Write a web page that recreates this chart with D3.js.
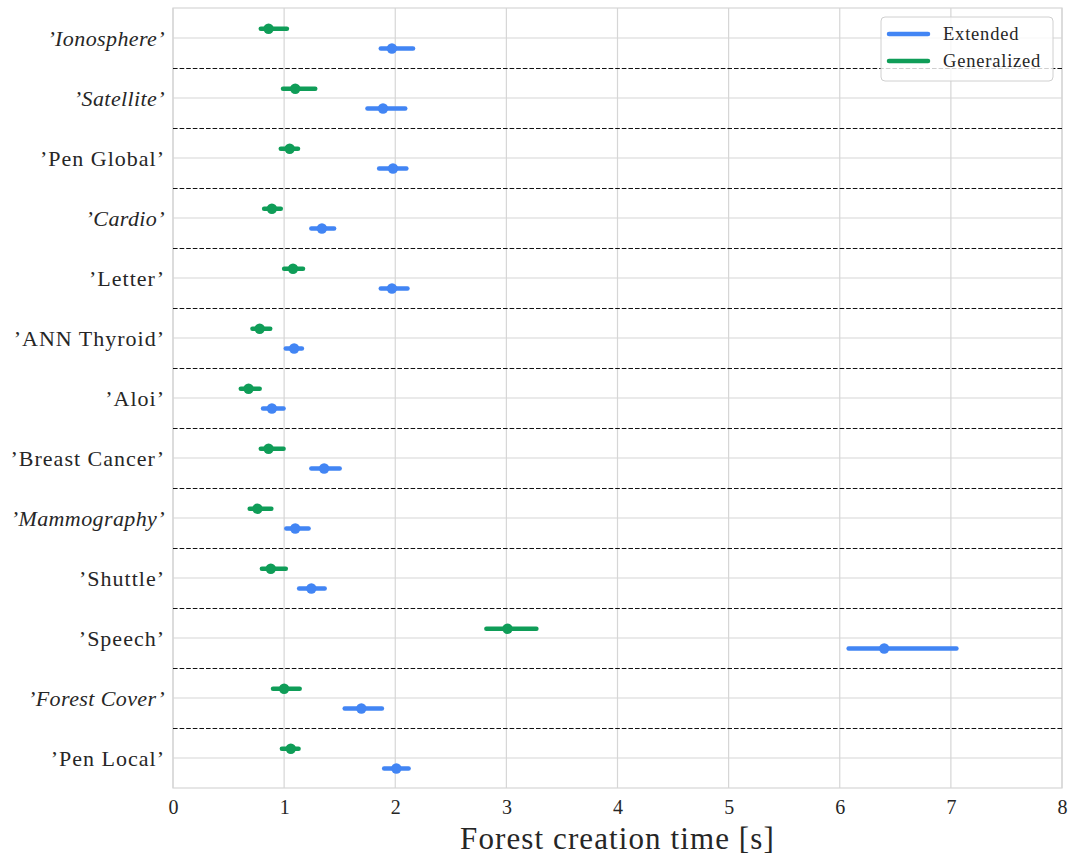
<!DOCTYPE html>
<html>
<head>
<meta charset="utf-8">
<script src="https://cdn.jsdelivr.net/npm/d3@7"></script>
<style>
  html, body { margin: 0; padding: 0; background: #fff; }
  svg { display: block; }
</style>
</head>
<body>
<div id="chart"></div>
<script>
// ---- data ----
const categories = ["Ionosphere", "Satellite", "Pen Global", "Cardio", "Letter", "ANN Thyroid", "Aloi",
  "Breast Cancer", "Mammography", "Shuttle", "Speech", "Forest Cover", "Pen Local"];
const italicCategories = ["Ionosphere", "Satellite", "Cardio", "Mammography", "Forest Cover"];

const extendedMean = [1.97, 1.89, 1.98, 1.34, 1.97, 1.09, 0.89, 1.36, 1.10, 1.245, 6.40, 1.695, 2.01];
const extendedLow  = [1.87, 1.75, 1.855, 1.245, 1.87, 1.015, 0.81, 1.245, 1.02, 1.135, 6.08, 1.545, 1.90];
const extendedHigh = [2.16, 2.09, 2.10, 1.45, 2.11, 1.16, 0.995, 1.50, 1.22, 1.365, 7.05, 1.88, 2.12];

const generalizedMean = [0.86, 1.10, 1.05, 0.89, 1.08, 0.78, 0.68, 0.86, 0.76, 0.88, 3.01, 1.00, 1.06];
const generalizedLow  = [0.79, 0.99, 0.97, 0.82, 1.00, 0.715, 0.61, 0.79, 0.69, 0.80, 2.82, 0.90, 0.98];
const generalizedHigh = [1.025, 1.28, 1.125, 0.97, 1.17, 0.875, 0.78, 0.995, 0.885, 1.015, 3.27, 1.14, 1.13];

const xTicks = [0, 1, 2, 3, 4, 5, 6, 7, 8];
const seriesNames = ["Extended", "Generalized"];
const seriesColors = ["#4285F4", "#0F9D58"];
const xLabel = "Forest creation time [s]";

// ---- layout ----
const W = 1073, H = 861;
const mLeft = 173, mRight = 1062, mTop = 8, mBottom = 788;
const FONT = "'Liberation Serif', 'DejaVu Serif', serif";
const TXT = "#262626";
const GRID = "#d6d6d6";

const svg = d3.select("#chart").append("svg").attr("width", W).attr("height", H);

const x = d3.scaleLinear().domain([0, 8]).range([mLeft, mRight]);
const y = d3.scaleLinear().domain([-0.5, categories.length - 0.5]).range([mTop, mBottom]);

// gridlines
svg.append("g").selectAll("line").data(xTicks).join("line")
  .attr("x1", d => x(d)).attr("x2", d => x(d)).attr("y1", mTop).attr("y2", mBottom)
  .attr("stroke", GRID).attr("stroke-width", 1.2);
svg.append("g").selectAll("line").data(categories).join("line")
  .attr("x1", mLeft).attr("x2", mRight).attr("y1", (d, i) => y(i)).attr("y2", (d, i) => y(i))
  .attr("stroke", GRID).attr("stroke-width", 1.2);

// frame
svg.append("rect").attr("x", mLeft).attr("y", mTop).attr("width", mRight - mLeft).attr("height", mBottom - mTop)
  .attr("fill", "none").attr("stroke", GRID).attr("stroke-width", 1.2);

// dashed separators
svg.append("g").selectAll("line").data(d3.range(categories.length - 1)).join("line")
  .attr("x1", mLeft).attr("x2", mRight).attr("y1", i => y(i + 0.5) + 0.5).attr("y2", i => y(i + 0.5) + 0.5)
  .attr("stroke", "#111").attr("stroke-width", 1.2).attr("stroke-dasharray", "4.6,2");

// series
const series = [
  { name: seriesNames[0], color: seriesColors[0], mean: extendedMean, lo: extendedLow, hi: extendedHigh, off: 0.175 },
  { name: seriesNames[1], color: seriesColors[1], mean: generalizedMean, lo: generalizedLow, hi: generalizedHigh, off: -0.155 }
];
series.forEach(s => {
  const g = svg.append("g");
  const rows = categories.map((c, i) => ({ i, m: s.mean[i], lo: s.lo[i], hi: s.hi[i] }));
  g.selectAll("line").data(rows).join("line")
    .attr("x1", d => x(d.lo)).attr("x2", d => x(d.hi))
    .attr("y1", d => y(d.i + s.off)).attr("y2", d => y(d.i + s.off))
    .attr("stroke", s.color).attr("stroke-width", 4.5).attr("stroke-linecap", "round");
  g.selectAll("circle").data(rows).join("circle")
    .attr("cx", d => x(d.m)).attr("cy", d => y(d.i + s.off)).attr("r", 5.2)
    .attr("fill", s.color);
});

// y labels
svg.append("g").selectAll("text").data(categories).join("text")
  .attr("x", mLeft - 8).attr("y", (d, i) => y(i)).attr("dy", "0.35em")
  .attr("text-anchor", "end").attr("font-family", FONT).attr("font-size", 22)
  .attr("letter-spacing", d => italicCategories.includes(d) ? "0.4px" : "1px")
  .attr("font-style", d => italicCategories.includes(d) ? "italic" : "normal")
  .attr("fill", TXT).text(d => "\u2019" + d + "\u2019");

// x axis tick labels
const xAxis = d3.axisBottom(x).tickValues(xTicks).tickSize(0).tickPadding(12).tickFormat(d3.format("d"));
const ax = svg.append("g").attr("transform", `translate(0,${mBottom})`).call(xAxis);
ax.select(".domain").remove();
ax.selectAll("text").attr("font-family", FONT).attr("font-size", 20).attr("fill", TXT);

// x label
svg.append("text").attr("x", (mLeft + mRight) / 2).attr("y", 849).attr("text-anchor", "middle")
  .attr("font-family", FONT).attr("font-size", 31).attr("letter-spacing", "1.1px")
  .attr("fill", TXT).text(xLabel);

// legend
const lg = svg.append("g");
lg.append("rect").attr("x", 881).attr("y", 17).attr("width", 172).attr("height", 64).attr("rx", 4)
  .attr("fill", "#fff").attr("fill-opacity", 0.8).attr("stroke", "#d0d0d0").attr("stroke-width", 1);
series.forEach((s, k) => {
  const yy = 34 + k * 27;
  lg.append("line").attr("x1", 889).attr("x2", 928).attr("y1", yy).attr("y2", yy)
    .attr("stroke", s.color).attr("stroke-width", 4.5).attr("stroke-linecap", "round");
  lg.append("text").attr("x", 943).attr("y", yy).attr("dy", "0.35em")
    .attr("font-family", FONT).attr("font-size", 18.5).attr("letter-spacing", "0.8px")
    .attr("fill", TXT).text(s.name);
});
</script>
</body>
</html>
